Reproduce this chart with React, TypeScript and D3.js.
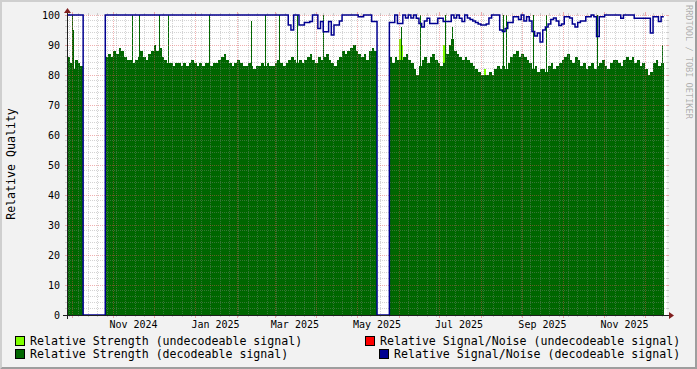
import React from "react";
import * as d3 from "d3";

// ---------- data ----------
const STEP_DAYS = 2;
const segmentStarts = ["2024-09-27T14:00:00Z", "2024-10-26T01:00:00Z", "2025-05-25T05:00:00Z"];

const strengthA = [86, 84, 82, 85, 84, 83];
const strengthB = [
  86, 87, 86, 88, 87, 89, 88, 86, 85, 85,
  84, 85, 86, 88, 86, 85, 87, 88, 90, 88, 89, 86,
  85, 84, 84, 83, 84, 84, 83, 84, 83, 84, 85, 84, 83, 84, 83, 84, 84, 83, 84,
  84, 85, 86, 87, 85, 84, 83, 84, 85, 84, 83, 83, 84, 83, 82, 83, 83,
  84, 83, 84, 83, 83, 84, 85, 84, 83, 84, 85, 86, 85, 84, 85, 84,
  85, 86, 87, 85, 84, 86, 85, 86, 87, 85, 84, 83, 85, 86, 88, 87, 88, 89, 90, 88, 87, 86, 87, 85, 88, 89, 88,
];
const strengthC = [
  86, 84, 86, 85, 85, 86, 87, 85, 84, 82,
  80, 83, 85, 86, 84, 86, 87, 85, 84, 83,
  84, 87, 90, 92, 88, 87, 86, 85, 86, 85,
  84, 83, 82, 81, 80, 80, 80, 81, 80, 82,
  83, 82, 83, 82, 84, 86, 87, 88, 86, 87,
  86, 85, 84, 82, 83, 81, 82, 82, 81, 83,
  84, 82, 83, 84, 85, 86, 87, 85, 84, 86,
  85, 83, 84, 82, 83, 84, 82, 83, 84, 85,
  83, 82, 84, 85, 85, 84, 83, 85, 86, 85,
  86, 84, 85, 83, 84, 82, 80, 81, 84, 85,
  83, 84,
];

const snrA = [100, 100, 100, 100, 100, 100];
const snrB = [
  100, 100, 100, 100, 100, 100, 100, 100, 100, 100,
  100, 100, 100, 100, 100, 100, 100, 100, 100, 100,
  100, 100, 100, 100, 100, 100, 100, 100, 100, 100,
  100, 100, 100, 100, 100, 100, 100, 100, 100, 100,
  100, 100, 100, 100, 100, 100, 100, 100, 100, 100,
  100, 100, 100, 100, 100, 100, 100, 100, 100, 100,
  100, 100, 100, 100, 100, 100, 100,
  100, 96.7, 95, 100, 100, 96.7, 96.7, 97.5, 97.5, 97.8,
  100, 100, 95.5, 97.8, 94.4, 94.4, 97.8, 93.3, 96.7, 96.7,
  98, 100, 100, 100, 100, 100, 100, 99.4, 99.4, 100,
  100, 100, 97.8, 97.8,
];
const snrC = [
  97.5, 97.5, 100, 97.2, 97.2, 100, 99, 100, 99, 100,
  98.9, 97.2, 96, 98, 98.9, 97.2, 97.2, 97.2, 98.9, 98.9,
  97.8, 97.8, 97.8, 100, 99, 100, 98.9, 97.8, 100, 99,
  98.5, 98, 97.5, 97, 96.7, 96.7, 97, 99, 100, 100,
  100, 95, 94.5, 95.5, 97.5, 97.5, 99.4, 99.4, 98.5, 100,
  98, 99.4, 98, 94.5, 93, 94, 91, 95, 96, 97,
  98.5, 99, 98, 96.5, 97, 99.4, 99.4, 99, 97, 96,
  97.5, 98, 98, 99.4, 99.4, 100, 99.4, 92.8, 99.4, 99.4,
  100, 100, 100, 100, 100, 100, 98.9, 100, 100, 100,
  100, 98.9, 98.9, 98.9, 98.9, 98.9, 98.9, 94, 99.4, 99.4,
  97.8, 99.4,
];

// short single-sample peaks of decodeable strength
const peakTimes = [
  "2024-09-27T15:00:00Z", "2024-10-01T16:00:00Z", "2024-10-02T10:00:00Z", "2024-11-14T22:00:00Z",
  "2024-11-20T20:00:00Z", "2024-12-05T17:00:00Z", "2024-12-11T16:00:00Z", "2025-01-11T21:00:00Z",
  "2025-02-12T02:00:00Z", "2025-02-21T19:00:00Z", "2025-03-04T05:00:00Z", "2025-03-17T14:00:00Z",
  "2025-04-06T14:00:00Z", "2025-06-02T22:00:00Z", "2025-06-17T00:00:00Z", "2025-07-05T14:00:00Z",
  "2025-07-10T19:00:00Z", "2025-08-17T17:00:00Z", "2025-08-19T22:00:00Z", "2025-09-09T00:00:00Z",
  "2025-09-18T17:00:00Z", "2025-10-26T14:00:00Z", "2025-12-13T22:00:00Z",
];
const peakValues = [100, 100, 95, 100, 100, 100, 100, 100, 98, 100, 100, 100, 100, 96, 100, 100, 96, 100, 100, 100, 100, 100, 90];

// undecodeable strength samples
const weakTimes = ["2025-06-02T02:00:00Z", "2025-06-03T00:00:00Z", "2025-07-04T02:00:00Z", "2025-08-04T07:00:00Z"];
const weakValues = [92, 90, 90, 82];

const yTicks = [0, 10, 20, 30, 40, 50, 60, 70, 80, 90, 100];
const yMinorStep = 2;

const legendLabels = [
  "Relative Strength (undecodeable signal)",
  "Relative Signal/Noise (undecodeable signal)",
  "Relative Strength  (decodeable signal)",
  "Relative Signal/Noise (decodeable signal)",
];

// ---------- styles ----------
const W = 697, H = 369;
const X0 = 67, X1 = 667, Y0 = 315, Y1 = 15;
const C_WEAK = "#80FF00";
const C_SNR_BAD = "#FF0000";
const C_STR = "#006600";
const C_SNR = "#000090";
const FONT = "'DejaVu Sans Mono', monospace";

type P = [Date, number];

export default function App() {
  const x = d3.scaleUtc()
    .domain([new Date("2024-09-27T14:00:00Z"), new Date("2025-12-17T14:00:00Z")])
    .range([X0, X1]);
  const y = d3.scaleLinear().domain([0, 100]).range([Y0, Y1]);
  const dayMs = 86400000;

  const segPoints = (start: string, vals: number[]): P[] => {
    const t0 = new Date(start).getTime();
    const pts: P[] = vals.map((v, i) => [new Date(t0 + i * STEP_DAYS * dayMs), v]);
    pts.push([new Date(t0 + vals.length * STEP_DAYS * dayMs), vals[vals.length - 1]]);
    return pts;
  };

  const strengthSegs = [strengthA, strengthB, strengthC].map((v, i) => segPoints(segmentStarts[i], v));
  const snrSegs = [snrA, snrB, snrC].map((v, i) => segPoints(segmentStarts[i], v));

  const area = d3.area<P>().x(d => x(d[0])).y0(y(0)).y1(d => y(d[1])).curve(d3.curveStepAfter);

  // SNR line: drops to 0 across the gaps
  const snrPts: P[] = [];
  snrSegs.forEach((seg, si) => {
    const body = seg.slice(0, -1);
    snrPts.push(...body);
    if (si < snrSegs.length - 1) snrPts.push([seg[seg.length - 1][0], 0]);
    else snrPts.push(seg[seg.length - 1]);
  });
  const line = d3.line<P>().x(d => x(d[0])).y(d => y(d[1])).curve(d3.curveStepAfter);

  const [d0, d1] = x.domain();
  const months = d3.utcMonth.range(d0, d1);
  const weeks = d3.utcSunday.range(d0, d1).filter(w => w.getUTCDate() !== 1);
  const labelMonths = d3.utcMonth.range(d3.utcMonth.floor(d0), d1).filter(m => m.getUTCMonth() % 2 === 0);
  const fmt = d3.utcFormat("%b %Y");

  const yMinor = d3.range(0, 101, yMinorStep).filter(v => v % 10 !== 0);

  const gridMinor = { stroke: "#8F8F8F", strokeOpacity: 0.38, strokeWidth: 1 };
  const gridMajor = { stroke: "#DE4F4F", strokeOpacity: 0.45, strokeWidth: 1 };
  const px = (v: number) => Math.round(v) + 0.5;

  return (
    <svg width={W} height={H} style={{ position: "absolute", left: 0, top: 0 }} xmlns="http://www.w3.org/2000/svg">
      <rect x={0} y={0} width={W} height={H} fill="#F2F2F2" />
      <polygon points={`0,0 0,${H} 2,${H - 2} 2,2 ${W - 2},2 ${W},0`} fill="#CFCFCF" />
      <polygon points={`0,${H} ${W},${H} ${W},0 ${W - 2},2 ${W - 2},${H - 2} 2,${H - 2}`} fill="#9E9E9E" />
      <rect x={X0} y={Y1} width={X1 - X0} height={Y0 - Y1} fill="#FFFFFF" />

      {/* undecodeable strength */}
      <g shapeRendering="crispEdges">
        {weakTimes.map((t, i) => {
          const xx = Math.floor(x(new Date(t)));
          return <rect key={"w" + i} x={xx} y={y(weakValues[i])} width={2} height={y(0) - y(weakValues[i])} fill={C_WEAK} />;
        })}
      </g>
      {/* decodeable strength */}
      <g shapeRendering="crispEdges">
        {strengthSegs.map((seg, i) => <path key={"a" + i} d={area(seg) || ""} fill={C_STR} />)}
        {peakTimes.map((t, i) => {
          const xx = Math.floor(x(new Date(t)));
          return <rect key={"p" + i} x={xx} y={y(peakValues[i])} width={1} height={y(0) - y(peakValues[i])} fill={C_STR} />;
        })}
      </g>

      {/* grid */}
      <g shapeRendering="crispEdges">
        {yMinor.map(v => (
          <g key={"hm" + v}>
            <line x1={X0 + 1} x2={X1} y1={px(y(v)) - 1} y2={px(y(v)) - 1} {...gridMinor} strokeDasharray="1 1" />
            <line x1={X0 - 2} x2={X0} y1={px(y(v)) - 1} y2={px(y(v)) - 1} {...gridMinor} />
            <line x1={X1} x2={X1 + 2} y1={px(y(v)) - 1} y2={px(y(v)) - 1} {...gridMinor} />
          </g>
        ))}
        {weeks.map((w, i) => (
          <g key={"vm" + i}>
            <line x1={px(x(w))} x2={px(x(w))} y1={Y1} y2={Y0} {...gridMinor} strokeDasharray="1 1" />
            <line x1={px(x(w))} x2={px(x(w))} y1={Y0} y2={Y0 + 2} {...gridMinor} />
            <line x1={px(x(w))} x2={px(x(w))} y1={Y1 - 2} y2={Y1} {...gridMinor} />
          </g>
        ))}
        {yTicks.filter(v => v > 0).map(v => (
          <g key={"hM" + v}>
            <line x1={X0 + 1} x2={X1} y1={px(y(v))} y2={px(y(v))} {...gridMajor} strokeDasharray="1 1" />
            <line x1={X0 - 2} x2={X0} y1={px(y(v))} y2={px(y(v))} {...gridMajor} />
            <line x1={X1} x2={X1 + 2} y1={px(y(v))} y2={px(y(v))} {...gridMajor} />
          </g>
        ))}
        {months.map((m, i) => (
          <g key={"vM" + i}>
            <line x1={px(x(m))} x2={px(x(m))} y1={Y1} y2={Y0} {...gridMajor} strokeDasharray="1 1" />
            <line x1={px(x(m))} x2={px(x(m))} y1={Y0} y2={Y0 + 3} {...gridMajor} />
            <line x1={px(x(m))} x2={px(x(m))} y1={Y1 - 3} y2={Y1} {...gridMajor} />
          </g>
        ))}
      </g>

      {/* SNR line */}
      <path d={line(snrPts) || ""} fill="none" stroke={C_SNR} strokeWidth={1.5} />

      {/* axes */}
      <g shapeRendering="crispEdges">
        <line x1={X0 - 4} x2={X1 + 4} y1={Y0 + 0.5} y2={Y0 + 0.5} stroke="#1F1F1F" strokeWidth={1} />
        <line x1={X0 + 0.5} x2={X0 + 0.5} y1={Y0 + 4} y2={Y1 - 4} stroke="#1F1F1F" strokeWidth={1} />
      </g>
      <polygon points={`${X1 + 2},${Y0 - 3} ${X1 + 2},${Y0 + 4} ${X1 + 7},${Y0 + 0.5}`} fill="#801F1F" />
      <polygon points={`${X0 - 3},${Y1 - 2} ${X0 + 4},${Y1 - 2} ${X0 + 0.5},${Y1 - 7}`} fill="#801F1F" />

      {/* y labels */}
      <g fontFamily={FONT} fontSize={10} fill="#000">
        {yTicks.map(v => (
          <text key={"yl" + v} x={60} y={y(v) + 3.6} textAnchor="end">{v}</text>
        ))}
        {labelMonths.map((m, i) => {
          const cx = x(new Date(m.getTime() + 15 * dayMs));
          if (cx < X0 || cx > X1) return null;
          return <text key={"xl" + i} x={cx} y={328} textAnchor="middle">{fmt(m)}</text>;
        })}
      </g>

      {/* axis title */}
      <text transform="translate(14.5,164) rotate(-90)" textAnchor="middle" fontFamily={FONT} fontSize={11.6} fill="#000">Relative Quality</text>

      {/* watermark */}
      <text transform="translate(686,5) rotate(90)" textAnchor="start" fontFamily={FONT} fontSize={8.6} fill="#000" fillOpacity={0.3}>RRDTOOL / TOBI OETIKER</text>

      {/* legend */}
      <g fontFamily={FONT} fontSize={11.6} fill="#000">
        <rect x={15.5} y={336.5} width={9} height={9} fill={C_WEAK} stroke="#000" strokeWidth={1} />
        <text x={30} y={345.3}>{legendLabels[0]}</text>
        <rect x={365.5} y={336.5} width={9} height={9} fill={C_SNR_BAD} stroke="#000" strokeWidth={1} />
        <text x={380} y={345.3}>{legendLabels[1]}</text>
        <rect x={15.5} y={349.5} width={9} height={9} fill={C_STR} stroke="#000" strokeWidth={1} />
        <text x={30} y={358}>{legendLabels[2]}</text>
        <rect x={379.5} y={349.5} width={9} height={9} fill={C_SNR} stroke="#000" strokeWidth={1} />
        <text x={394} y={358}>{legendLabels[3]}</text>
      </g>
    </svg>
  );
}
